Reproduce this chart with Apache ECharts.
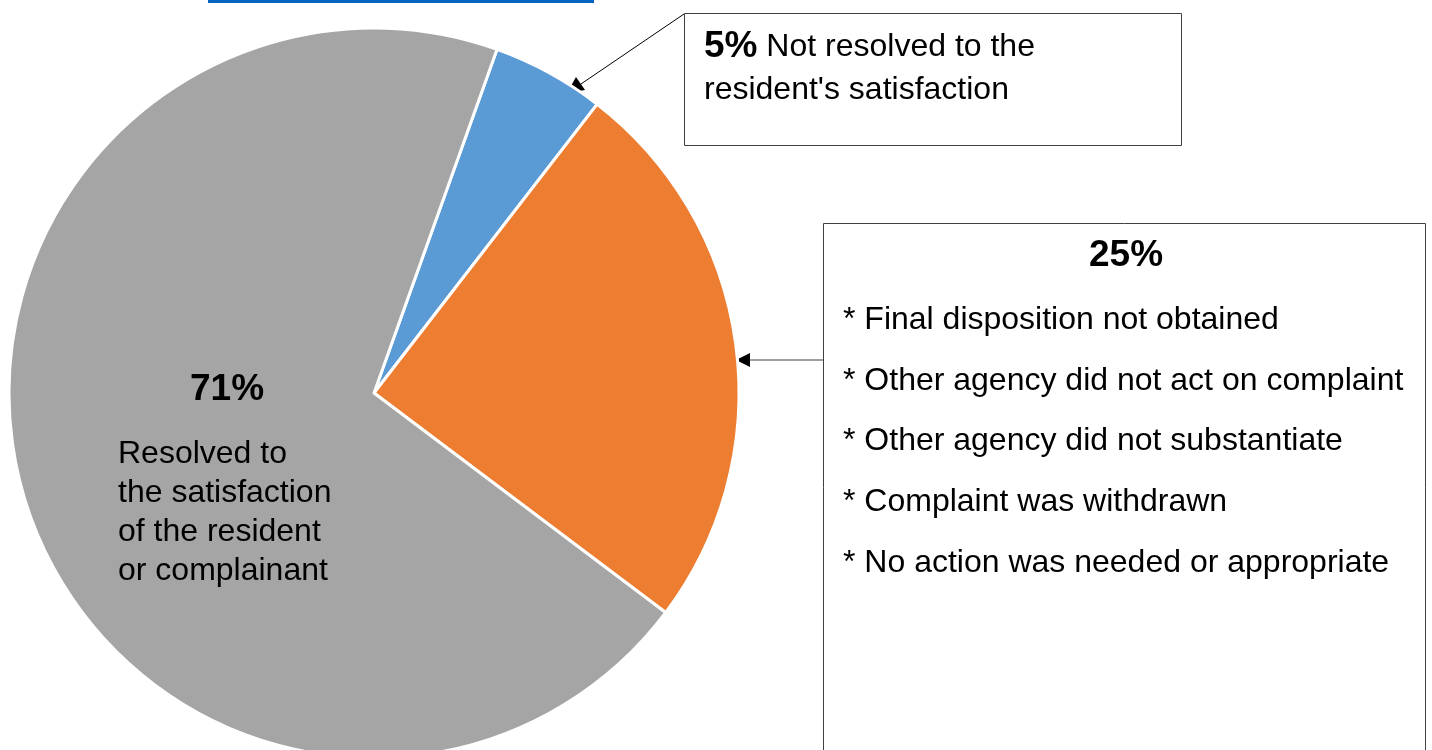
<!DOCTYPE html>
<html>
<head>
<meta charset="utf-8">
<script src="https://cdn.jsdelivr.net/npm/echarts@6/dist/echarts.min.js"></script>
<style>
  html, body { margin: 0; padding: 0; background: #fff; }
  #chart { width: 1432px; height: 750px; }
</style>
</head>
<body>
<div id="chart"></div>
<script>
// slice data, clockwise from the blue slice
const categories = [
  "Not resolved to the resident's satisfaction",
  "Other outcomes",
  "Resolved to the satisfaction of the resident or complainant"
];
const values = [5.0, 24.8, 70.2];
const colors = ["#5B9BD5", "#ED7D31", "#A5A5A5"];
const pctLabels = ["5%", "25%", "71%"];
const otherReasons = [
  "* Final disposition not obtained",
  "* Other agency did not act on complaint",
  "* Other agency did not substantiate",
  "* Complaint was withdrawn",
  "* No action was needed or appropriate"
];
const resolvedLines = ["Resolved to", "the satisfaction", "of the resident", "or complainant"];

const FONT = "'Liberation Sans', Arial, sans-serif";
const chart = echarts.init(document.getElementById("chart"));

// text + arrows drawn as annotations
const graphics = [
  { type: "rect", shape: { x: 208, y: 0, width: 386, height: 3 }, style: { fill: "#0563C1" } },
  // box for the 5% note
  { type: "rect", shape: { x: 684.5, y: 13.5, width: 497, height: 132 },
    style: { fill: "#fff", stroke: "#404040", lineWidth: 1 } },
  { type: "text", x: 704, y: 47,
    style: { text: "{b|" + pctLabels[0] + "} Not resolved to the", verticalAlign: "middle",
      font: "32px " + FONT, fill: "#000",
      rich: { b: { fontWeight: "bold", fontSize: 37, fontFamily: FONT } } } },
  { type: "text", x: 704, y: 90,
    style: { text: "resident's satisfaction", verticalAlign: "middle", font: "32px " + FONT, fill: "#000" } },
  { type: "line", shape: { x1: 684, y1: 14, x2: 578, y2: 86 }, style: { stroke: "#000", lineWidth: 1 } },
  { type: "polygon", shape: { points: [[567, 93], [576, 77], [585, 90]] }, style: { fill: "#000" } },
  // box for the 25% note
  { type: "rect", shape: { x: 823.5, y: 223.5, width: 602, height: 560 },
    style: { fill: "#fff", stroke: "#404040", lineWidth: 1 } },
  { type: "text", x: 1126, y: 256,
    style: { text: pctLabels[1], align: "center", verticalAlign: "middle",
      font: "bold 37px " + FONT, fill: "#000" } },
  { type: "line", shape: { x1: 823, y1: 360, x2: 748, y2: 360 }, style: { stroke: "#404040", lineWidth: 1 } },
  { type: "polygon", shape: { points: [[736, 360], [750, 353], [750, 367]] }, style: { fill: "#000" } },
  // 71% label inside the grey slice
  { type: "text", x: 227, y: 390, z: 100,
    style: { text: pctLabels[2], align: "center", verticalAlign: "middle",
      font: "bold 37px " + FONT, fill: "#000" } }
];
otherReasons.forEach((t, i) => {
  graphics.push({ type: "text", x: 843, y: 320 + i * 60.8,
    style: { text: t, verticalAlign: "middle", font: "32px " + FONT, fill: "#000" } });
});
resolvedLines.forEach((t, i) => {
  graphics.push({ type: "text", x: 118, y: 454 + i * 39, z: 100,
    style: { text: t, verticalAlign: "middle", font: "32px " + FONT, fill: "#000" } });
});

chart.setOption({
  animation: false,
  series: [{
    type: "pie",
    center: [374, 393],
    radius: 365,
    startAngle: 70.3,
    clockwise: true,
    label: { show: false },
    labelLine: { show: false },
    emphasis: { disabled: true },
    itemStyle: { borderColor: "#fff", borderWidth: 3 },
    data: categories.map((c, i) => ({ name: c, value: values[i], itemStyle: { color: colors[i] } }))
  }],
  graphic: graphics
});
</script>
</body>
</html>
